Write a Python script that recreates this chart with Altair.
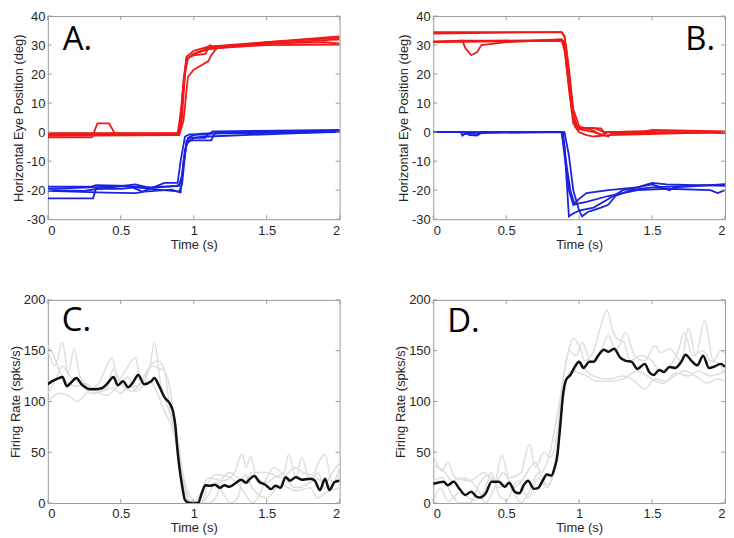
import altair as alt
import pandas as pd

# ---------------- Axis ticks / labels ----------------
x_ticks = [0, 0.5, 1, 1.5, 2]
eye_ticks = [-30, -20, -10, 0, 10, 20, 30, 40]
rate_ticks = [0, 50, 100, 150, 200]

# ---------------- Panel A: eye position (red = rightward, blue = leftward) ----------------
a_red1_t = [0, 0.31, 0.34, 0.42, 0.46, 0.89, 0.91, 0.93, 0.95, 1.0, 1.1, 1.5, 2.0]
a_red1_v = [-0.8, -0.8, 3, 3, -0.5, -0.5, 2, 18, 25, 27, 28.5, 31, 33]
a_red2_t = [0, 0.3, 0.32, 0.66, 0.9, 0.92, 0.94, 0.96, 1.0, 1.08, 1.11, 1.13, 1.5, 2.0]
a_red2_v = [-1.8, -1.8, -0.8, -1.0, -0.8, 5, 20, 25.5, 26.5, 27, 30, 29.5, 30.5, 32]
a_red3_t = [0, 0.9, 0.93, 0.96, 1.0, 1.05, 1.1, 1.12, 1.16, 1.5, 2.0]
a_red3_v = [-1.3, -1.0, 4, 19, 21.5, 23, 24.5, 26.5, 29, 30, 30.2]
a_red4_t = [0, 0.89, 0.92, 0.95, 1.0, 1.05, 1.1, 1.5, 1.9, 2.0]
a_red4_v = [-0.5, -0.5, 10, 25, 27, 28, 29, 30.5, 31, 30.5]
a_red5_t = [0, 0.9, 0.92, 0.95, 1.0, 1.1, 1.5, 2.0]
a_red5_v = [-0.3, -0.3, 12, 26, 28, 29.5, 31, 32.5]

a_blue1_t = [0, 0.31, 0.33, 0.5, 0.6, 0.9, 0.92, 0.95, 1.0, 1.12, 1.15, 2.0]
a_blue1_v = [-22.8, -22.8, -19.5, -19.5, -19, -20.5, -18, -3, -2.8, -2.8, 0, 0.2]
a_blue2_t = [0, 0.3, 0.33, 0.55, 0.65, 0.8, 0.89, 0.91, 0.94, 0.97, 1.1, 1.13, 2.0]
a_blue2_v = [-18.8, -18.8, -18.3, -18.5, -20.5, -17.5, -17.5, -10, -1.5, -0.8, -0.8, 0.3, 0.8]
a_blue3_t = [0, 0.25, 0.35, 0.6, 0.7, 0.9, 0.92, 0.95, 1.0, 1.08, 1.1, 2.0]
a_blue3_v = [-20, -20.2, -19.5, -18, -19.2, -18.5, -15, -4, -2, -2, -0.5, 0]
a_blue4_t = [0, 0.4, 0.6, 0.66, 0.85, 0.91, 0.93, 0.96, 1.0, 1.05, 2.0]
a_blue4_v = [-20.2, -20.8, -21, -20.5, -19.8, -20.8, -10, -2, -1, -0.5, 0.5]
a_blue5_t = [0, 0.3, 0.5, 0.7, 0.88, 0.9, 0.92, 0.94, 0.97, 1.1, 2.0]
a_blue5_v = [-19.5, -19, -18.5, -19, -18.5, -18.2, -15, -6, -2, -1.5, 0.2]

# ---------------- Panel B ----------------
b_red1_t = [0, 0.2, 0.22, 0.26, 0.3, 0.33, 0.5, 0.88, 0.9, 0.93, 0.96, 1.0, 1.05, 1.15, 1.17, 1.5, 2.0]
b_red1_v = [31.3, 31.5, 29, 26.5, 27.5, 30, 31, 32, 30, 15, 3, 1.5, 1.5, 1.3, 0, 0, 0]
b_red2_t = [0, 0.88, 0.9, 0.93, 0.96, 1.0, 1.1, 1.2, 1.22, 2.0]
b_red2_v = [34.5, 34.5, 33, 20, 5, 1, 0, -1.5, -0.5, 0]
b_red3_t = [0, 0.88, 0.9, 0.93, 0.96, 1.0, 1.1, 1.15, 1.2, 1.6, 1.62, 2.0]
b_red3_v = [34, 34.5, 33, 22, 8, 2, 0.5, -1, 0, 0.5, 0, -0.3]
b_red4_t = [0, 0.2, 0.4, 0.88, 0.9, 0.94, 0.97, 1.0, 1.05, 1.1, 1.2, 2.0]
b_red4_v = [31, 31.5, 31.5, 31.8, 28, 12, 2, 0, -1, -1.5, -1, 0]
b_red5_t = [0, 0.89, 0.91, 0.95, 0.99, 1.1, 1.17, 1.45, 1.5, 2.0]
b_red5_v = [31, 31.5, 30, 8, 1, 1.5, 0, 0.3, 0.8, 0.3]

b_blue1_t = [0, 0.19, 0.2, 0.22, 0.3, 0.33, 0.88, 0.9, 0.93, 0.96, 1.0, 1.05, 1.2, 1.4, 1.5, 1.6, 2.0]
b_blue1_v = [0, 0, -1.2, -0.5, -0.7, 0, 0, -8, -20, -25, -23, -21, -20, -19, -17.5, -18, -18.5]
b_blue2_t = [0, 0.2, 0.25, 0.3, 0.33, 0.88, 0.9, 0.93, 0.96, 1.0, 1.1, 1.2, 1.3, 1.5, 1.62, 1.65, 2.0]
b_blue2_v = [0, 0, -1, -1.2, -0.3, 0, -5, -29, -28, -27, -26, -23, -20, -18, -20, -19, -18]
b_blue3_t = [0, 0.89, 0.91, 0.94, 0.97, 1.0, 1.05, 1.2, 1.4, 1.6, 1.9, 1.95, 2.0]
b_blue3_v = [0, 0, -10, -20, -25, -24.5, -24, -22, -20, -19.5, -20, -21, -20]
b_blue4_t = [0, 0.9, 0.93, 0.96, 1.0, 1.02, 1.06, 1.15, 1.2, 1.25, 1.35, 1.5, 2.0]
b_blue4_v = [0, 0, -8, -20, -27, -29, -27.5, -26, -25, -22, -20, -19, -18]

# ---------------- Panel C: firing rate ----------------
c_mean_t = [0, 0.03, 0.076, 0.1, 0.13, 0.155, 0.196, 0.23, 0.29, 0.32, 0.37, 0.41, 0.45, 0.48,
            0.515, 0.55, 0.58, 0.62, 0.66, 0.71, 0.73, 0.76, 0.8, 0.84, 0.86, 0.875, 0.886, 0.9,
            0.92, 0.94, 0.976, 1.03, 1.055, 1.08, 1.11, 1.145, 1.18, 1.21, 1.245, 1.29, 1.325,
            1.36, 1.38, 1.415, 1.45, 1.49, 1.53, 1.56, 1.595, 1.63, 1.66, 1.7, 1.74, 1.8, 1.83,
            1.865, 1.9, 1.93, 1.966, 2.0]
c_mean_v = [117, 120, 123, 124, 115, 118, 123, 117, 112, 112, 113, 118, 124, 116,
            120, 114, 118, 126, 117, 120, 123, 116, 104, 97, 89, 75, 56, 37,
            17.5, 3, 0, 0, 9.6, 17.5, 17, 18, 15, 17.5, 16, 20, 23,
            20, 23, 26.5, 20.7, 18, 13.7, 17, 15, 25.5, 22, 25.5, 23, 24, 22,
            12.8, 24, 12.8, 20.7, 22]

c_g1_t = [0, 0.05, 0.1, 0.14, 0.18, 0.22, 0.3, 0.35, 0.44, 0.48, 0.53, 0.6, 0.64, 0.7, 0.73, 0.77,
          0.82, 0.87, 0.9, 0.93, 0.96, 1.0, 1.05, 1.1, 1.2, 1.28, 1.33, 1.36, 1.39, 1.43, 1.5,
          1.55, 1.62, 1.65, 1.7, 1.74, 1.8, 1.85, 1.9, 1.95, 2.0]
c_g1_v = [150, 135, 158, 128, 152, 125, 113, 118, 143, 120, 130, 143, 118, 135, 158, 120,
          95, 75, 55, 20, 5, 0, 10, 25, 22, 30, 48, 35, 46, 25, 20,
          25, 30, 48, 25, 45, 20, 38, 48, 20, 35]
c_g2_t = [0, 0.05, 0.1, 0.15, 0.22, 0.3, 0.4, 0.45, 0.5, 0.58, 0.65, 0.72, 0.77, 0.8, 0.84, 0.88,
          0.92, 0.95, 0.98, 1.05, 1.1, 1.15, 1.25, 1.35, 1.4, 1.45, 1.5, 1.55, 1.6, 1.7, 1.8,
          1.85, 1.9, 2.0]
c_g2_v = [108, 120, 135, 125, 118, 108, 112, 132, 118, 110, 122, 135, 132, 130, 110, 60,
          20, 5, 0, 0, 20, 28, 25, 10, 0, 8, 25, 35, 30, 15, 20,
          30, 15, 28]
c_g3_t = [0, 0.08, 0.15, 0.2, 0.3, 0.4, 0.5, 0.55, 0.6, 0.7, 0.75, 0.8, 0.85, 0.9, 0.95, 1.0,
          1.05, 1.1, 1.15, 1.2, 1.25, 1.3, 1.35, 1.4, 1.5, 1.6, 1.7, 1.8, 1.85, 1.9, 2.0]
c_g3_v = [100, 108, 105, 100, 112, 106, 118, 124, 110, 120, 108, 90, 75, 45, 15, 2,
          0, 8, 20, 10, 0, 5, 28, 15, 5, 18, 12, 15, 5, 10, 15]
c_g4_t = [0, 0.04, 0.08, 0.12, 0.2, 0.25, 0.35, 0.45, 0.5, 0.55, 0.62, 0.68, 0.72, 0.76, 0.8,
          0.84, 0.9, 0.93, 0.96, 0.98, 1.1, 1.15, 1.2, 1.25, 1.3, 1.35, 1.4, 1.5, 1.6, 1.7,
          1.75, 1.8, 1.9, 1.95, 2.0]
c_g4_v = [155, 145, 130, 120, 115, 118, 110, 113, 108, 115, 115, 130, 138, 140, 130,
          90, 50, 25, 5, 0, 0, 5, 25, 30, 25, 20, 30, 30, 25, 35,
          30, 28, 20, 30, 40]

# ---------------- Panel D: firing rate ----------------
d_mean_t = [0, 0.03, 0.07, 0.1, 0.14, 0.18, 0.22, 0.26, 0.3, 0.32, 0.36, 0.4, 0.45, 0.49, 0.52,
            0.56, 0.59, 0.62, 0.65, 0.69, 0.72, 0.75, 0.78, 0.81, 0.83, 0.85, 0.87, 0.89, 0.91,
            0.94, 0.97, 1.0, 1.03, 1.07, 1.1, 1.13, 1.17, 1.2, 1.24, 1.28, 1.32, 1.36, 1.4,
            1.45, 1.48, 1.51, 1.55, 1.58, 1.62, 1.66, 1.7, 1.73, 1.77, 1.81, 1.85, 1.89, 1.93,
            1.97, 2.0]
d_mean_v = [19, 20, 21, 17.5, 21, 14, 8, 11, 6, 5.4, 9.6, 21, 21, 16, 20,
            11, 9.6, 17.5, 22, 14, 15, 22, 28, 27, 33.5, 46, 75, 107, 121,
            126, 134, 139, 133, 139, 139, 145, 151, 149, 152, 143.5, 140, 139, 132,
            137, 129, 126, 131, 129, 134, 133, 139, 146, 140, 135.6, 145, 133, 134.6,
            137, 134]

d_g1_t = [0, 0.06, 0.1, 0.15, 0.25, 0.35, 0.42, 0.47, 0.52, 0.6, 0.66, 0.7, 0.76, 0.8, 0.85,
          0.88, 0.92, 0.96, 1.0, 1.04, 1.1, 1.15, 1.19, 1.23, 1.28, 1.32, 1.38, 1.45, 1.52,
          1.56, 1.62, 1.7, 1.75, 1.8, 1.86, 1.92, 1.97, 2.0]
d_g1_v = [48, 32, 40, 25, 22, 30, 20, 47, 25, 30, 58, 35, 50, 45, 70,
          110, 145, 162, 155, 140, 150, 175, 190, 170, 160, 168, 145, 140, 155,
          148, 152, 140, 172, 145, 180, 140, 150, 148]
d_g2_t = [0, 0.08, 0.13, 0.2, 0.3, 0.36, 0.42, 0.48, 0.55, 0.62, 0.7, 0.74, 0.8, 0.86, 0.9,
          0.93, 0.98, 1.02, 1.08, 1.15, 1.2, 1.25, 1.3, 1.35, 1.42, 1.5, 1.55, 1.62, 1.68,
          1.72, 1.78, 1.85, 1.9, 1.95, 2.0]
d_g2_v = [38, 30, 22, 25, 15, 0, 15, 30, 15, 25, 40, 30, 50, 95, 130,
          150, 145, 158, 140, 150, 165, 150, 160, 140, 145, 140, 130, 135, 150,
          168, 145, 150, 140, 138, 128]
d_g3_t = [0, 0.05, 0.1, 0.18, 0.28, 0.35, 0.4, 0.45, 0.5, 0.58, 0.65, 0.72, 0.78, 0.84, 0.88,
          0.92, 0.97, 1.0, 1.05, 1.1, 1.2, 1.3, 1.38, 1.45, 1.52, 1.6, 1.65, 1.72, 1.8, 1.88,
          1.95, 2.0]
d_g3_v = [0, 15, 2, 10, 3, 12, 30, 8, 3, 22, 5, 25, 15, 45, 90,
          125, 130, 140, 130, 125, 122, 125, 120, 112, 122, 120, 125, 130, 125, 118,
          122, 120]
d_g4_t = [0, 0.06, 0.12, 0.18, 0.25, 0.32, 0.38, 0.45, 0.52, 0.6, 0.66, 0.72, 0.78, 0.82, 0.86,
          0.9, 0.94, 1.0, 1.05, 1.12, 1.2, 1.3, 1.4, 1.5, 1.58, 1.66, 1.75, 1.82, 1.9, 2.0]
d_g4_v = [22, 25, 10, 0, 0, 20, 28, 15, 20, 0, 12, 30, 18, 25, 70,
          110, 130, 128, 125, 120, 120, 122, 130, 122, 118, 128, 125, 130, 125, 130]


def traces(pairs, prefix):
    rows = []
    for i, (ts, vs) in enumerate(pairs):
        for t, v in zip(ts, vs):
            rows.append({"t": t, "v": v, "trace": f"{prefix}{i}"})
    return pd.DataFrame(rows)


W, H = 293, 204
BOX = "#9a9a9a"
TICK_LEN = 4


def panel(line_layers, ydom, yticks, ytitle, letter, letter_x, letter_y, letter_align):
    xs = alt.Scale(domain=[0, 2], nice=False, zero=False)
    ys = alt.Scale(domain=ydom, nice=False, zero=False)
    x_axis = alt.Axis(values=x_ticks, title="Time (s)", labelExpr="'' + datum.value")
    y_axis = alt.Axis(values=yticks, title=ytitle, labelExpr="'' + datum.value")
    X = alt.X("t:Q", scale=xs, axis=x_axis)
    Y = alt.Y("v:Q", scale=ys, axis=y_axis)

    layers = []
    for df, color, width, interp in line_layers:
        layers.append(
            alt.Chart(df).mark_line(color=color, strokeWidth=width, interpolate=interp, clip=True).encode(
                x=X, y=Y, detail="trace:N"
            )
        )

    xt = pd.DataFrame({"t": x_ticks})
    yt = pd.DataFrame({"v": yticks})
    layers.append(alt.Chart(xt).mark_rule(color=BOX, strokeWidth=1).encode(
        x=X, y=alt.value(H), y2=alt.value(H - TICK_LEN)))
    layers.append(alt.Chart(xt).mark_rule(color=BOX, strokeWidth=1).encode(
        x=X, y=alt.value(0), y2=alt.value(TICK_LEN)))
    layers.append(alt.Chart(yt).mark_rule(color=BOX, strokeWidth=1).encode(
        y=Y, x=alt.value(0), x2=alt.value(TICK_LEN)))
    layers.append(alt.Chart(yt).mark_rule(color=BOX, strokeWidth=1).encode(
        y=Y, x=alt.value(W - TICK_LEN), x2=alt.value(W)))

    lab = pd.DataFrame({"label": [letter]})
    layers.append(alt.Chart(lab).mark_text(
        font="Open Sans", fontSize=33, color="black", align=letter_align, baseline="alphabetic"
    ).encode(text="label:N", x=alt.value(letter_x), y=alt.value(letter_y)))

    return alt.layer(*layers).properties(width=W, height=H)


RED = "#f01818"
BLUE = "#1a22e0"
GRAY = "#dedede"

a_red = traces([(a_red1_t, a_red1_v), (a_red2_t, a_red2_v), (a_red3_t, a_red3_v),
                (a_red4_t, a_red4_v), (a_red5_t, a_red5_v)], "r")
a_blue = traces([(a_blue1_t, a_blue1_v), (a_blue2_t, a_blue2_v), (a_blue3_t, a_blue3_v),
                 (a_blue4_t, a_blue4_v), (a_blue5_t, a_blue5_v)], "b")
b_red = traces([(b_red1_t, b_red1_v), (b_red2_t, b_red2_v), (b_red3_t, b_red3_v),
                (b_red4_t, b_red4_v), (b_red5_t, b_red5_v)], "r")
b_blue = traces([(b_blue1_t, b_blue1_v), (b_blue2_t, b_blue2_v), (b_blue3_t, b_blue3_v),
                 (b_blue4_t, b_blue4_v)], "b")
c_gray = traces([(c_g1_t, c_g1_v), (c_g2_t, c_g2_v), (c_g3_t, c_g3_v), (c_g4_t, c_g4_v)], "g")
c_mean = traces([(c_mean_t, c_mean_v)], "m")
d_gray = traces([(d_g1_t, d_g1_v), (d_g2_t, d_g2_v), (d_g3_t, d_g3_v), (d_g4_t, d_g4_v)], "g")
d_mean = traces([(d_mean_t, d_mean_v)], "m")

eye_title = "Horizontal Eye Position (deg)"
rate_title = "Firing Rate (spks/s)"

pA = panel([(a_red, RED, 1.8, "linear"), (a_blue, BLUE, 1.8, "linear")],
           [-30, 40], eye_ticks, eye_title, "A.", 15, 34, "left")
pB = panel([(b_red, RED, 1.8, "linear"), (b_blue, BLUE, 1.8, "linear")],
           [-30, 40], eye_ticks, eye_title, "B.", W - 10, 34, "right")
pC = panel([(c_gray, GRAY, 1.5, "monotone"), (c_mean, "#111111", 2.5, "monotone")],
           [0, 200], rate_ticks, rate_title, "C.", 14, 31, "left")
pD = panel([(d_gray, GRAY, 1.5, "monotone"), (d_mean, "#111111", 2.5, "monotone")],
           [0, 200], rate_ticks, rate_title, "D.", 14, 32, "left")

chart = (
    alt.concat(pA, pB, pC, pD, columns=2, spacing={"row": 81, "column": 94},
               bounds="flush", padding=0)
    .configure_view(stroke=BOX, strokeWidth=1)
    .configure_axis(
        domain=False, ticks=False, tickSize=0, grid=False,
        labelFont="Liberation Sans", labelFontSize=13, labelColor="#262626",
        titleFont="Liberation Sans", titleFontSize=13, titleFontWeight="normal",
        titleColor="#262626",
    )
    .configure_axisX(labelPadding=5, titlePadding=1)
    .configure_axisY(labelPadding=3, titlePadding=1)
)

chart.save("out.html", embed_options={"renderer": "svg", "actions": False})
